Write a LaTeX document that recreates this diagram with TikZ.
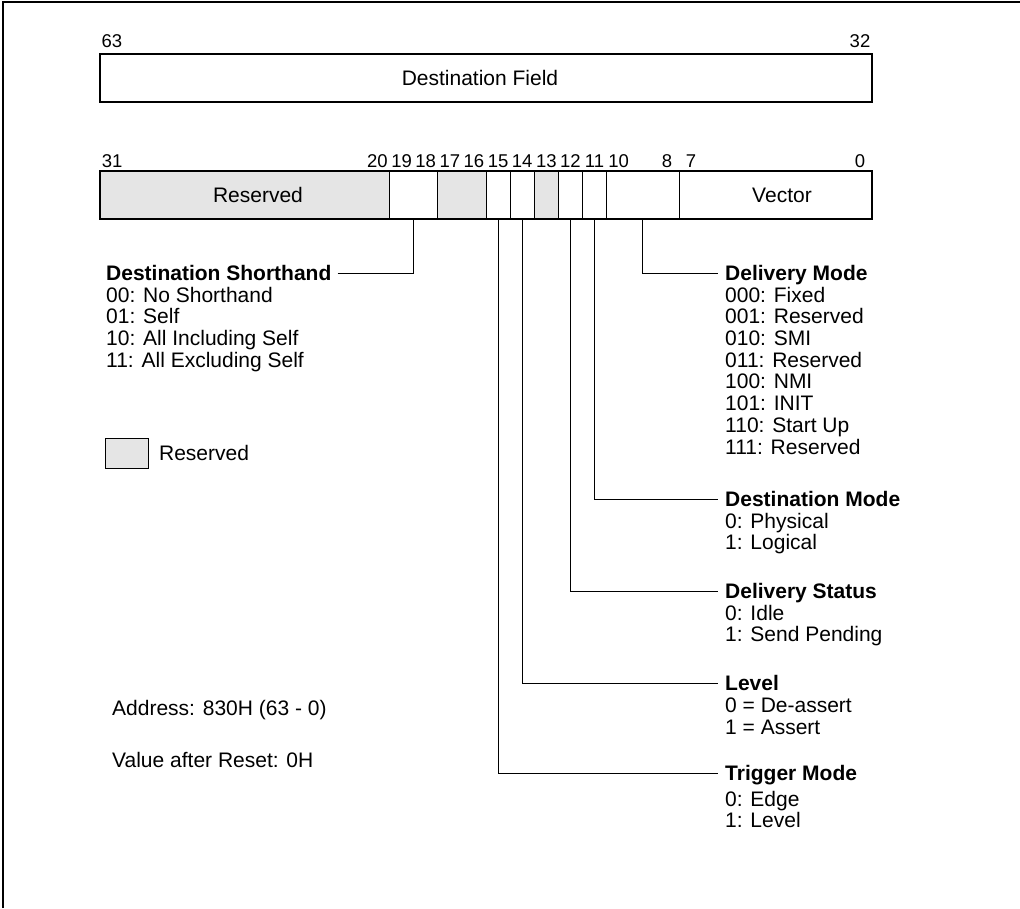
\documentclass[tikz,border=0pt]{standalone}
\usepackage{fontspec}
\setmainfont{Liberation Sans}
\usetikzlibrary{positioning}
\definecolor{resgray}{gray}{0.9}

\tikzset{
  regbar/.style={line width=1.6pt},
  divider/.style={line width=0.9pt},
  leader/.style={line width=0.9pt},
  bitnum/.style={anchor=base, inner sep=0pt, font=\fontsize{18.5}{19}\selectfont},
  fieldname/.style={inner sep=0pt, font=\fontsize{21}{22}\selectfont},
  fldtitle/.style={anchor=west, inner sep=0pt, text height=15pt, text depth=0pt,
    font=\fontsize{21}{22}\selectfont\bfseries},
  fldvals/.style={inner sep=0pt, align=left, font=\fontsize{21}{21.7}\selectfont},
}

\begin{document}
\begin{tikzpicture}[x=1pt,y=-1pt]
\useasboundingbox (0,0) rectangle (1020,908);
% page frame
\draw[line width=2pt] (3,908) -- (3,2) -- (1020,2);

% bits 63-32
\draw[regbar] (100,54) rectangle (872,102);
\node[fieldname] (dest) at (480,78) {Destination Field};
\node[bitnum] (n63) at (112,47) {63};
\node[bitnum] (n32) at (860,47) {32};

% bits 31-0
\filldraw[fill=resgray, divider] (100,171) rectangle (389.5,219);
\filldraw[fill=resgray, divider] (437.75,171) rectangle (486,219);
\filldraw[fill=resgray, divider] (534.25,171) rectangle (558.4,219);
\foreach \x in {389.5,437.75,486,510.1,534.25,558.4,582.5,606.6,679}
  \draw[divider] (\x,171) -- (\x,219);
\draw[regbar] (100,171) rectangle (872,219);
\node[fieldname] (res) at (258,195) {Reserved};
\node[fieldname] (vec) at (782,195) {Vector};
\foreach \b in {31,20,19,18,17,16,15,14,13,12,11,10,8,7,0}
  \node[bitnum] (n\b) at ({100+(31.5-\b)*24.125},167) {\b};

% taps under the fields
\coordinate (t18) at (413.6,219);
\coordinate (t15) at (498.1,219);
\coordinate (t14) at (522.2,219);
\coordinate (t12) at (570.4,219);
\coordinate (t11) at (594.6,219);
\coordinate (t10) at (642.8,219);

% field descriptions
\node[fldtitle] (shT) at (106,273) {Destination Shorthand};
\node[fldvals, below right=6pt and 0pt of shT.south west] (shV)
  {00: No Shorthand\\01: Self\\10: All Including Self\\11: All Excluding Self};
\draw[leader, shorten <=6pt] (shT.east) -| (t18);

\node[fldtitle] (dmT) at (725,273) {Delivery Mode};
\node[fldvals, below right=6pt and 0pt of dmT.south west] (dmV)
  {000: Fixed\\001: Reserved\\010: SMI\\011: Reserved\\100: NMI\\101: INIT\\110: Start Up\\111: Reserved};
\draw[leader, shorten >=7pt] (t10) |- (dmT.west);

\node[fldtitle] (dsT) at (725,499) {Destination Mode};
\node[fldvals, below right=6pt and 0pt of dsT.south west] (dsV)
  {0: Physical\\1: Logical};
\draw[leader, shorten >=7pt] (t11) |- (dsT.west);

\node[fldtitle] (stT) at (725,591) {Delivery Status};
\node[fldvals, below right=6pt and 0pt of stT.south west] (stV)
  {0: Idle\\1: Send Pending};
\draw[leader, shorten >=7pt] (t12) |- (stT.west);

\node[fldtitle] (lvT) at (725,683) {Level};
\node[fldvals, below right=7pt and 0pt of lvT.south west] (lvV)
  {0 = De-assert\\1 = Assert};
\draw[leader, shorten >=7pt] (t14) |- (lvT.west);

\node[fldtitle] (tmT) at (725,773) {Trigger Mode};
\node[fldvals, below right=10pt and 0pt of tmT.south west] (tmV)
  {0: Edge\\1: Level};
\draw[leader, shorten >=7pt] (t15) |- (tmT.west);

% legend
\node[draw, divider, fill=resgray, minimum width=43pt, minimum height=30pt,
  inner sep=0pt, anchor=north west] (key) at (105,438) {};
\node[fieldname, right=10pt of key] (keyT) {Reserved};

% address notes
\node[fieldname, anchor=base west] (addr) at (112,715.5) {Address: 830H (63 - 0)};
\node[fieldname, anchor=base west] (rst) at (112,767.5) {Value after Reset: 0H};
\end{tikzpicture}
\end{document}
